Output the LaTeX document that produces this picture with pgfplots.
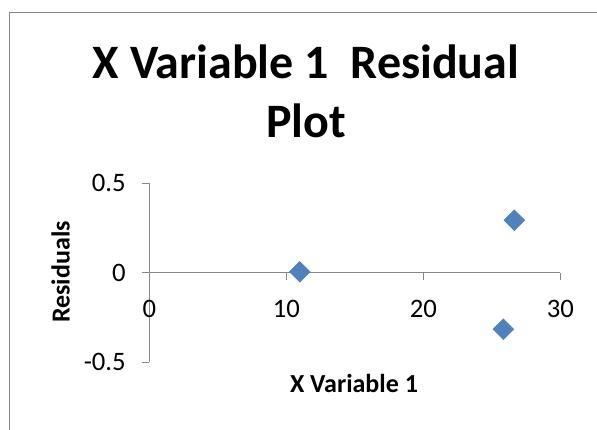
\documentclass[border=0pt]{standalone}
\usepackage{pgfplots}
\pgfplotsset{compat=1.18}
\usepackage{fontspec}
\setmainfont{Carlito}
\definecolor{mkblue}{HTML}{4F81BD}
\definecolor{axgray}{HTML}{868686}
\begin{document}
\begin{tikzpicture}
\useasboundingbox (0,0) rectangle (447.75pt,-321.75pt);
\draw[axgray, line width=1pt] (7.1pt,-330pt) -- (7.1pt,-9.4pt) -- (460pt,-9.4pt);
\begin{axis}[
  at={(112pt,-137.5pt)}, anchor=north west,
  scale only axis, width=308.25pt, height=134.25pt,
  xmin=0, xmax=30, ymin=-0.5, ymax=0.5,
  axis x line=middle, axis y line=left,
  hide obscured x ticks=false, hide obscured y ticks=false,
  axis line style={axgray, line width=0.75pt, -},
  xtick={0,10,20,30}, xticklabels={0,10,20,30},
  ytick={-0.5,0,0.5}, yticklabels={-0.5,0,0.5},
  tick style={axgray, line width=0.75pt},
  tick align=outside, major tick length=5.5pt,
  xticklabel style={font=\fontsize{20}{24}\selectfont, anchor=base, inner sep=0pt, yshift=-28pt},
  yticklabel style={font=\fontsize{20}{24}\selectfont, anchor=east, inner sep=0pt, xshift=-12pt},
  clip=false,
]
\addplot[only marks, mark=square*, mark size=5.5pt,
  mark options={rotate=45, fill=mkblue, draw=mkblue}]
  coordinates {(10.98,0.006) (26.64,0.294) (25.84,-0.315)};
\end{axis}
\node[anchor=base, font=\fontsize{36}{40}\selectfont\bfseries] at (229.5pt,-58.5pt) {X Variable 1\ \ Residual};
\node[anchor=base, font=\fontsize{36}{40}\selectfont\bfseries] at (229.5pt,-102.75pt) {Plot};
\node[anchor=base, font=\fontsize{19.5}{23}\selectfont\bfseries] at (265.5pt,-294pt) {X Variable 1};
\node[anchor=base, rotate=90, font=\fontsize{19.5}{23}\selectfont\bfseries] at (52.3pt,-204pt) {Residuals};
\end{tikzpicture}
\end{document}
